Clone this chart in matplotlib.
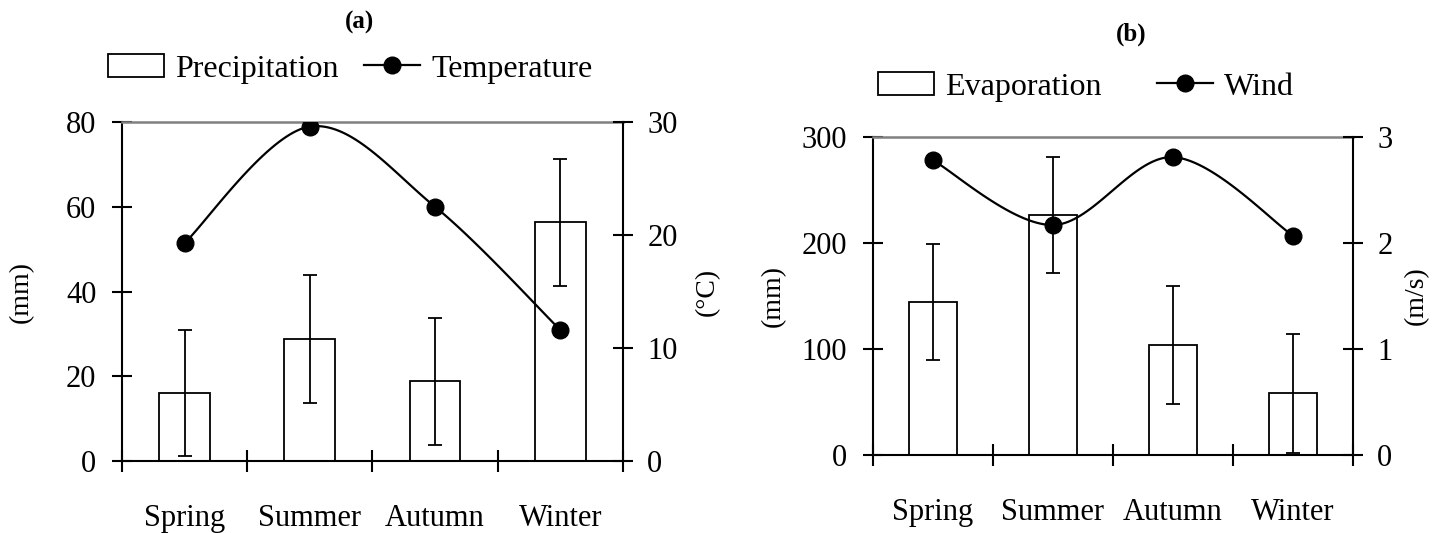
import numpy as np
import matplotlib
matplotlib.use("Agg")
import matplotlib.pyplot as plt
from matplotlib.lines import Line2D
from matplotlib.patches import Patch

plt.rcParams['font.family'] = ['Liberation Serif', 'DejaVu Serif']

seasons = ["Spring", "Summer", "Autumn", "Winter"]

# (a)
precip = [16.0, 28.7, 18.8, 56.3]
precip_err = [14.9, 15.1, 14.9, 14.9]
temp = [19.3, 29.6, 22.5, 11.6]

# (b)
evap = [144.6, 226.4, 104.2, 58.5]
evap_err = [54.6, 54.6, 55.7, 56.0]
wind = [2.78, 2.17, 2.81, 2.07]


def smooth(y, n=40):
    # excel-like smoothed line (catmull-rom as cubic bezier)
    x = np.arange(len(y), dtype=float)
    y = np.asarray(y, dtype=float)
    px = np.concatenate([[x[0]], x, [x[-1]]])
    py = np.concatenate([[y[0]], y, [y[-1]]])
    xs, ys = [], []
    t = np.linspace(0, 1, n)
    for i in range(len(y) - 1):
        p0 = np.array([px[i + 1], py[i + 1]])
        p3 = np.array([px[i + 2], py[i + 2]])
        c1 = p0 + (p3 - np.array([px[i], py[i]])) / 6
        c2 = p3 - (np.array([px[i + 3], py[i + 3]]) - p0) / 6
        b = ((1 - t) ** 3)[:, None] * p0 + (3 * (1 - t) ** 2 * t)[:, None] * c1 \
            + (3 * (1 - t) * t ** 2)[:, None] * c2 + (t ** 3)[:, None] * p3
        xs.extend(b[:, 0])
        ys.extend(b[:, 1])
    return xs, ys


def panel(rect, bars, errs, line, ymax, ystep, y2max, y2ticks, l1, l2,
          lab1, lab2, labx1, labx2, barw, colsp):
    ax = fig.add_axes(rect)
    x = np.arange(len(seasons))
    ax.bar(x, bars, width=barw, color="white", edgecolor="black", linewidth=1.3)
    ax.errorbar(x, bars, yerr=errs, fmt="none", ecolor="black", elinewidth=1.3,
                capsize=5, capthick=1.3)
    ax.set_xlim(-0.5, len(seasons) - 0.5)
    ax.set_ylim(0, ymax)
    ax.set_yticks(np.arange(0, ymax + 1, ystep))
    ax.set_xticks(np.arange(-0.5, len(seasons)))
    ax.set_xticklabels([])
    ax.set_xticks(x, minor=True)
    ax.set_xticklabels(seasons, minor=True, fontsize=22)
    ax.tick_params(axis="x", which="minor", length=0, pad=31)
    ax.tick_params(axis="x", which="major", direction="inout", length=16, width=1.5)
    ax.tick_params(axis="y", direction="inout", length=15, width=1.5, labelsize=22, pad=11)
    for s in ["left", "bottom"]:
        ax.spines[s].set_linewidth(1.5)
    ax.spines["right"].set_visible(False)
    ax.spines["top"].set_color("#808080")
    ax.spines["top"].set_linewidth(1.8)
    ax.set_ylabel(lab1, fontsize=20)
    ax.yaxis.set_label_coords(labx1, 0.5)
    ax.yaxis.label.set_va("center")

    ax2 = ax.twinx()
    sx, sy = smooth(line)
    ax2.plot(sx, sy, color="black", linewidth=1.6)
    ax2.plot(x, line, "o", color="black", markersize=12)
    ax2.set_ylim(0, y2max)
    ax2.set_yticks(y2ticks)
    ax2.tick_params(axis="y", direction="inout", length=15, width=1.5, labelsize=22, pad=10)
    for s in ["left", "top", "bottom"]:
        ax2.spines[s].set_visible(False)
    ax2.spines["right"].set_linewidth(1.5)
    ax2.set_ylabel(lab2, fontsize=20)
    ax2.yaxis.set_label_coords(labx2, 0.5)
    ax2.yaxis.label.set_va("center")

    handles = [Patch(facecolor="white", edgecolor="black", linewidth=1.3),
               Line2D([], [], color="black", marker="o", markersize=12, linewidth=1.6)]
    return ax, handles, [l1, l2], colsp


fig = plt.figure(figsize=(14.32, 5.33), dpi=100)

ax_a, h, l, cs = panel([0.0852, 0.135, 0.3498, 0.636], precip, precip_err, temp,
                       80, 20, 30, [0, 10, 20, 30], "Precipitation", "Temperature",
                       "(mm)", "(°C)", -0.2, 1.168, 0.405, 0.8)
fig.legend(h, l, loc="center", bbox_to_anchor=(350 / 1432, 1 - 69 / 533), ncol=2,
           frameon=False, fontsize=23, handlelength=1.75, handletextpad=0.35,
           columnspacing=cs, borderpad=0)
fig.text(360 / 1432, 1 - 22 / 533, "(a)", fontsize=18, fontweight="bold", ha="center", va="center")

ax_b, h, l, cs = panel([0.6096, 0.146, 0.3352, 0.597], evap, evap_err, wind,
                       300, 100, 3, [0, 1, 2, 3], "Evaporation", "Wind",
                       "(mm)", "(m/s)", -0.208, 1.133, 0.4, 1.75)
fig.legend(h, l, loc="center", bbox_to_anchor=(1086 / 1432, 1 - 87 / 533), ncol=2,
           frameon=False, fontsize=23, handlelength=1.75, handletextpad=0.35,
           columnspacing=cs, borderpad=0)
fig.text(1131 / 1432, 1 - 34 / 533, "(b)", fontsize=18, fontweight="bold", ha="center", va="center")

fig.savefig("out.png", dpi=100)
